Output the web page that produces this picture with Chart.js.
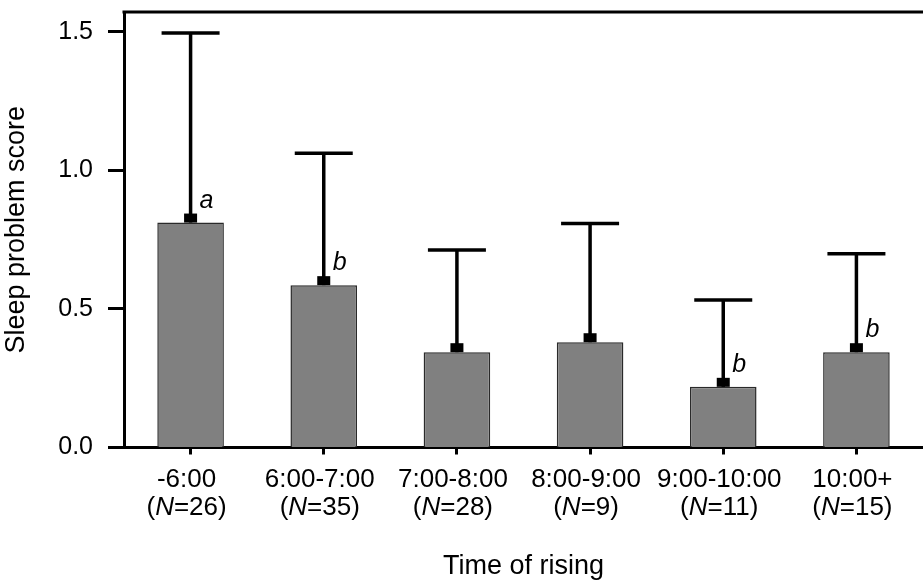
<!DOCTYPE html>
<html>
<head>
<meta charset="utf-8">
<script src="https://cdn.jsdelivr.net/npm/chart.js@4.4.1/dist/chart.umd.min.js"></script>
<style>
  body { margin: 0; background: #fff; }
  #wrap { width: 923px; height: 583px; }
</style>
</head>
<body>
<div id="wrap"><canvas id="sleepChart"></canvas></div>
<script>
// data
const categories = ['-6:00', '6:00-7:00', '7:00-8:00', '8:00-9:00', '9:00-10:00', '10:00+'];
const groupN = [26, 35, 28, 9, 11, 15];
const means = [0.812, 0.586, 0.344, 0.380, 0.219, 0.344];
const upperErr = [1.496, 1.062, 0.713, 0.809, 0.532, 0.699];
const letters = ['a', 'b', '', '', 'b', 'b'];
const yTicks = [0, 0.5, 1.0, 1.5];

const FONT = "'Liberation Sans', Arial, sans-serif";

// error bars, mean markers, letters, top frame and two-line x labels
const extras = {
  id: 'extras',
  afterDatasetsDraw(chart) {
    const { ctx, chartArea, scales: { x, y } } = chart;
    ctx.save();
    ctx.strokeStyle = '#000';
    ctx.fillStyle = '#000';
    ctx.lineWidth = 3;

    ctx.beginPath();
    ctx.moveTo(chartArea.left - 1.5, chartArea.top);
    ctx.lineTo(chart.width, chartArea.top);
    ctx.stroke();

    ctx.lineWidth = 3.5;
    means.forEach((m, i) => {
      const cx = x.getPixelForValue(i);
      const yTop = y.getPixelForValue(m);
      const yCap = y.getPixelForValue(upperErr[i]);
      ctx.beginPath();
      ctx.moveTo(cx, yTop);
      ctx.lineTo(cx, yCap);
      ctx.stroke();
      ctx.beginPath();
      ctx.moveTo(cx - 29, yCap);
      ctx.lineTo(cx + 29, yCap);
      ctx.stroke();
      ctx.fillRect(cx - 6.5, yTop - 9, 13, 9);
      if (letters[i]) {
        ctx.font = 'italic 25px ' + FONT;
        ctx.textAlign = 'left';
        ctx.textBaseline = 'alphabetic';
        ctx.fillText(letters[i], cx + 9, yTop - 15);
      }
    });
    ctx.restore();
  },
  afterDraw(chart) {
    const { ctx, chartArea, scales: { x } } = chart;
    const normal = '26px ' + FONT;
    const italic = 'italic 26px ' + FONT;
    ctx.save();
    ctx.fillStyle = '#000';
    ctx.textBaseline = 'alphabetic';
    categories.forEach((cat, i) => {
      const cx = x.getPixelForValue(i) - 4;
      ctx.font = normal;
      ctx.textAlign = 'center';
      ctx.fillText(cat, cx, chartArea.bottom + 39.5);

      // "(N=26)" with italic N
      const parts = [['(', normal], ['N', italic], ['=' + groupN[i] + ')', normal]];
      let total = 0;
      parts.forEach(p => { ctx.font = p[1]; total += ctx.measureText(p[0]).width; });
      let px = cx - total / 2;
      ctx.textAlign = 'left';
      parts.forEach(p => {
        ctx.font = p[1];
        ctx.fillText(p[0], px, chartArea.bottom + 67.5);
        px += ctx.measureText(p[0]).width;
      });
    });
    ctx.restore();
  }
};

const ctx = document.getElementById('sleepChart').getContext('2d');
new Chart(ctx, {
  type: 'bar',
  data: {
    labels: categories,
    datasets: [{
      data: means,
      backgroundColor: '#808080',
      borderColor: '#2a2a2a',
      borderWidth: 1.5,
      barPercentage: 0.5,
      categoryPercentage: 1.0
    }]
  },
  options: {
    responsive: true,
    maintainAspectRatio: false,
    animation: false,
    layout: { padding: { top: 12, right: -6, left: 0, bottom: 0 } },
    plugins: {
      legend: { display: false },
      tooltip: { enabled: false }
    },
    scales: {
      x: {
        offset: true,
        grid: { offset: false, drawOnChartArea: false, drawTicks: true, tickLength: 7, tickWidth: 3, tickColor: '#000' },
        border: { display: true, color: '#000', width: 3 },
        ticks: { display: false },
        title: {
          display: true,
          text: 'Time of rising',
          color: '#000',
          font: { family: FONT, size: 27 },
          padding: { top: 0, bottom: 0 }
        },
        afterFit(scale) {
          scale.height = 135.5;
          scale.paddingLeft = 0;
          scale.paddingRight = 0;
        }
      },
      y: {
        min: 0,
        max: 1.572,
        afterBuildTicks(scale) { scale.ticks = yTicks.map(v => ({ value: v })); },
        grid: { drawOnChartArea: false, drawTicks: true, tickLength: 16, tickWidth: 3, tickColor: '#000' },
        border: { display: true, color: '#000', width: 3 },
        ticks: {
          color: '#000',
          padding: 15,
          font: { family: FONT, size: 25 },
          callback: v => Number(v).toFixed(1)
        },
        title: {
          display: true,
          text: 'Sleep problem score',
          color: '#000',
          font: { family: FONT, size: 27 },
          padding: { top: 0, bottom: 0 }
        },
        afterFit(scale) {
          scale.width = 124;
          scale.paddingTop = 0;
          scale.paddingBottom = 0;
        }
      }
    }
  },
  plugins: [extras]
});
</script>
</body>
</html>
